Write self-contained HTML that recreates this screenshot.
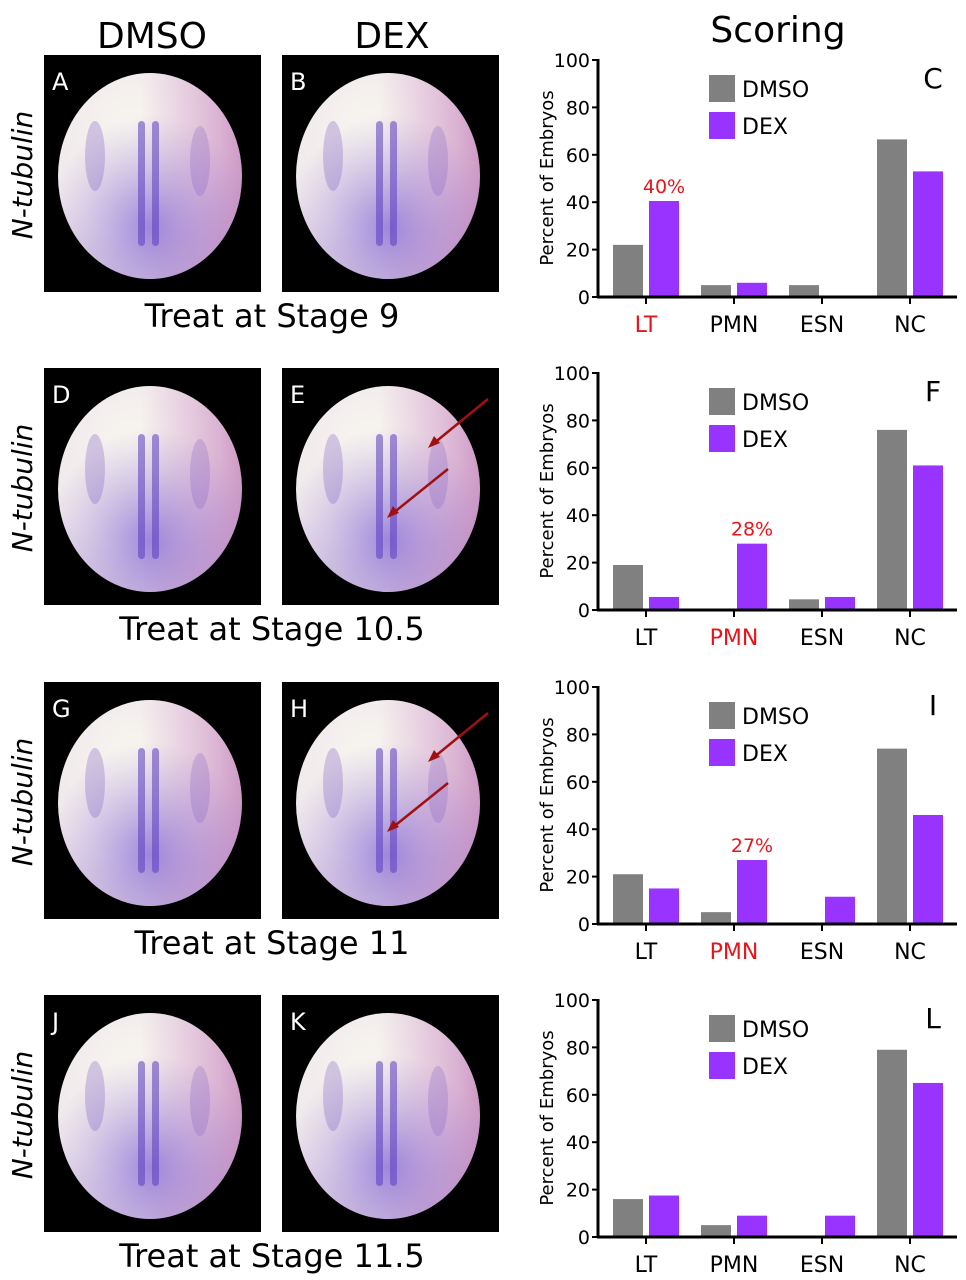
<!DOCTYPE html>
<html><head><meta charset="utf-8">
<style>
html,body{margin:0;padding:0;background:#fff;}
svg{display:block;font-family:"DejaVu Sans","Liberation Sans",sans-serif;}
</style></head>
<body>
<svg id="fig" width="966" height="1280" viewBox="0 0 966 1280">
<defs>
<radialGradient id="eg" cx="0.4" cy="0.3" r="0.8">
<stop offset="0" stop-color="#f8f6ef"/><stop offset="0.6" stop-color="#efe8ec"/><stop offset="1" stop-color="#d8c8dc"/>
</radialGradient>
<radialGradient id="pur" cx="0.5" cy="0.75" r="0.55">
<stop offset="0" stop-color="#6a48d0" stop-opacity="0.6"/><stop offset="1" stop-color="#8a6bd0" stop-opacity="0"/>
</radialGradient>
<linearGradient id="pink" x1="0" y1="0" x2="1" y2="0">
<stop offset="0.45" stop-color="#c060b0" stop-opacity="0"/><stop offset="1" stop-color="#b04aa0" stop-opacity="0.45"/>
</linearGradient>
</defs>
<text x="152" y="48" font-size="36" text-anchor="middle">DMSO</text>
<text x="392" y="48" font-size="36" text-anchor="middle">DEX</text>
<text x="778" y="42" font-size="36" text-anchor="middle">Scoring</text>
<g id="rows"></g>
</svg>
<script>
// Chart data (percent of embryos)
const categories = ["LT","PMN","ESN","NC"];
const dmsoC = [22,5,5,66.5];
const dexC = [40.5,6,0,53];
const dmsoF = [19,0,4.5,76];
const dexF = [5.5,28,5.5,61];
const dmsoI = [21,5,0,74];
const dexI = [15,27,11.5,46];
const dmsoL = [16,5,0,79];
const dexL = [17.5,9,9,65];
const yTicks = [0,20,40,60,80,100];
const panelLetters = ["C","F","I","L"];
const stageLabels = ["Treat at Stage 9","Treat at Stage 10.5","Treat at Stage 11","Treat at Stage 11.5"];
const imgLetters = [["A","B"],["D","E"],["G","H"],["J","K"]];
const highlightCat = [0,1,1,-1];
const highlightText = ["40%","28%","27%",""];

const dmsoAll = [dmsoC,dmsoF,dmsoI,dmsoL];
const dexAll = [dexC,dexF,dexI,dexL];
const offsets = [0,313,627,940];

const NS = "http://www.w3.org/2000/svg";
const root = document.getElementById("rows");
function mk(tag, attrs, parent){
  const e = document.createElementNS(NS, tag);
  for (const k in attrs) e.setAttribute(k, attrs[k]);
  (parent||root).appendChild(e);
  return e;
}

offsets.forEach((oy, r) => {
  const g = mk("g", {transform:"translate(0,"+oy+")"});
  
  

  const nt = mk("text", {x:0,y:0,"font-size":"28","font-style":"italic","text-anchor":"middle",transform:"translate(32,175) rotate(-90)"}, g);
  nt.textContent = "N-tubulin";
  
  

  [44,282].forEach((bx, i) => {
    const ig = mk("g", {}, g);
    
    
    mk("rect", {x:bx,y:55,width:217,height:237,fill:"#000"}, ig);
    const cx = bx+106, cy = 176;
    mk("ellipse", {cx:cx,cy:cy,rx:92,ry:103,fill:"url(#eg)"}, ig);
    mk("ellipse", {cx:cx,cy:cy,rx:92,ry:103,fill:"url(#pink)"}, ig);
    mk("ellipse", {cx:cx,cy:cy,rx:92,ry:103,fill:"url(#pur)"}, ig);
    mk("rect", {x:cx-12,y:cy-55,width:7,height:125,rx:3.5,fill:"#5a3cc0","fill-opacity":"0.55"}, ig);
    mk("rect", {x:cx+2,y:cy-55,width:7,height:125,rx:3.5,fill:"#5a3cc0","fill-opacity":"0.55"}, ig);
    mk("ellipse", {cx:cx-55,cy:cy-20,rx:10,ry:35,fill:"#7a5cc0","fill-opacity":"0.3"}, ig);
    mk("ellipse", {cx:cx+50,cy:cy-15,rx:10,ry:35,fill:"#7a5cc0","fill-opacity":"0.25"}, ig);
    const lt = mk("text", {x:bx+8,y:90,"font-size":"24",fill:"#fff"}, ig);
    lt.textContent = imgLetters[r][i];
    if (i===1 && (r===1 || r===2)) {
      mk("line", {x1:cx+100,y1:cy-90,x2:cx+45,y2:cy-45,stroke:"#a01010","stroke-width":"2.5"}, ig);
      mk("polygon", {points:(cx+40)+","+(cy-41)+" "+(cx+52)+","+(cy-46)+" "+(cx+46)+","+(cy-53),fill:"#a01010"}, ig);
      mk("line", {x1:cx+60,y1:cy-20,x2:cx+4,y2:cy+25,stroke:"#a01010","stroke-width":"2.5"}, ig);
      mk("polygon", {points:(cx-1)+","+(cy+29)+" "+(cx+11)+","+(cy+24)+" "+(cx+5)+","+(cy+17),fill:"#a01010"}, ig);
    }
  });
  const st = mk("text", {x:272,y:327,"font-size":"32","text-anchor":"middle"}, g);
  st.textContent = stageLabels[r];
  
  

  const cg = mk("g", {}, g);
  
  
  const y0 = 297, y100 = 60;
  const yS = v => y0 - (y0 - y100) * v / 100;
  const xC = i => 646 + 88 * i;
  const bw = 30;
  const dm = dmsoAll[r], dx = dexAll[r];
  categories.forEach((c, i) => {
    if (dm[i] > 0) {
      const b = mk("rect", {x:xC(i)-33,y:yS(dm[i]),width:bw,height:y0-yS(dm[i]),fill:"#808080"}, cg);
      
      
    }
    if (dx[i] > 0) {
      const b = mk("rect", {x:xC(i)+3,y:yS(dx[i]),width:bw,height:y0-yS(dx[i]),fill:"#9933ff"}, cg);
      
      
    }
    const red = highlightCat[r] === i;
    const t = mk("text", {x:xC(i),y:332,"font-size":"22","text-anchor":"middle",fill:red?"#e8141b":"#000"}, cg);
    t.textContent = c;
    
    
    mk("line", {x1:xC(i),y1:y0,x2:xC(i),y2:y0+7,stroke:"#000","stroke-width":"2"}, cg);
    if (red) {
      const h = mk("text", {x:xC(i)+18,y:yS(dx[i])-8,"font-size":"19","text-anchor":"middle",fill:"#e8141b"}, cg);
      h.textContent = highlightText[r];
      
      
    }
  });
  mk("line", {x1:598,y1:y100-1,x2:598,y2:y0+1,stroke:"#000","stroke-width":"3"}, cg);
  mk("line", {x1:597,y1:y0,x2:957,y2:y0,stroke:"#000","stroke-width":"3"}, cg);
  yTicks.forEach(v => {
    mk("line", {x1:592,y1:yS(v),x2:598,y2:yS(v),stroke:"#000","stroke-width":"2"}, cg);
    const t = mk("text", {x:590,y:yS(v)+7,"font-size":"19","text-anchor":"end",fill:"#000"}, cg);
    t.textContent = v;
    
    
  });
  const yt = mk("text", {x:0,y:0,"font-size":"18","text-anchor":"middle",transform:"translate(553,178) rotate(-90)"}, cg);
  yt.textContent = "Percent of Embryos";
  
  
  const lg = mk("g", {}, cg);
  
  
  mk("rect", {x:709,y:75,width:26,height:27,fill:"#808080"}, lg);
  mk("rect", {x:709,y:112,width:26,height:27,fill:"#9933ff"}, lg);
  const l1 = mk("text", {x:742,y:97,"font-size":"22"}, lg); l1.textContent = "DMSO";
  const l2 = mk("text", {x:742,y:134,"font-size":"22"}, lg); l2.textContent = "DEX";
  const pl = mk("text", {x:933,y:88,"font-size":"28","text-anchor":"middle"}, cg);
  pl.textContent = panelLetters[r];
  
  
});
</script>
</body></html>
